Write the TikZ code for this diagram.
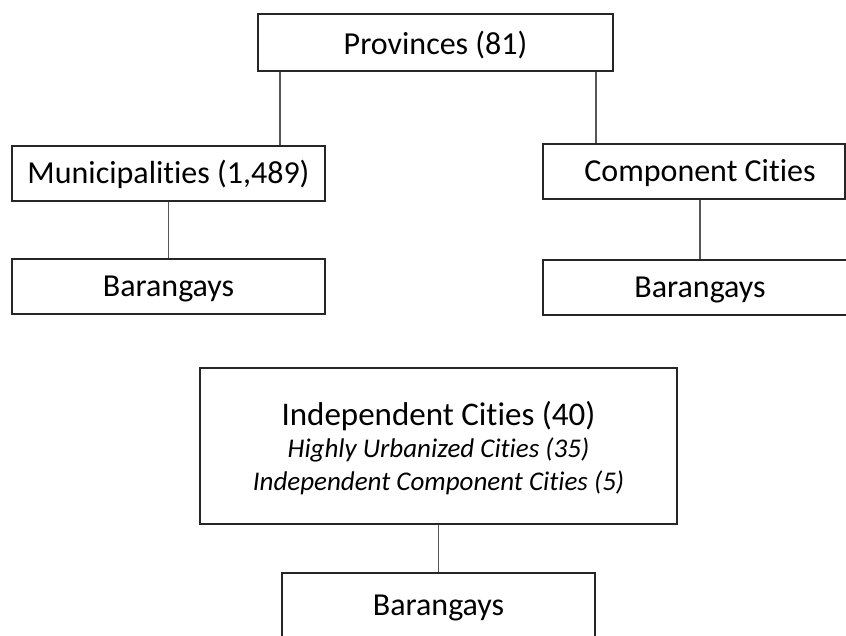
\documentclass[tikz,border=0pt]{standalone}
\usepackage{fontspec}
\setmainfont{Carlito}[Ligatures=NoCommon]
\definecolor{boxline}{HTML}{262626}
\definecolor{connline}{HTML}{555555}
\begin{document}
\begin{tikzpicture}[x=1pt,y=-1pt,
  orgbox/.style={draw=boxline, line width=1.8pt, rectangle, inner sep=0pt,
    font=\fontsize{32}{38}\selectfont, text height=20.6pt, text depth=0pt},
  plaintext/.style={inner sep=0pt, text height=21.2pt, text depth=0pt,
    font=\fontsize{33}{38}\selectfont},
  italtext/.style={inner sep=0pt, text height=17.4pt, text depth=0pt,
    font=\fontsize{27}{31}\selectfont\itshape},
  conn/.style={draw=connline, line width=1.1pt}]
\useasboundingbox (0,0) rectangle (846,635);
\clip (0,0) rectangle (846,635);
% boxes
\node[orgbox, minimum width=355pt, minimum height=57pt] (prov) at (435.5,42.5) {\raisebox{-2pt}{Provinces (81)}};
\node[orgbox, minimum width=313pt, minimum height=55pt] (mun) at (168.5,173.5) {Municipalities (1,489)};
\node[orgbox, minimum width=302pt, minimum height=55pt] (comp) at (694,171.5) {\hspace*{12pt}Component Cities};
\node[orgbox, minimum width=313pt, minimum height=55pt] (barl) at (168.5,286.5) {Barangays};
\node[orgbox, minimum width=314pt, minimum height=55pt] (barr) at (700,287.5) {Barangays};
\node[orgbox, minimum width=477pt, minimum height=156pt] (ind) at (438.5,446) {};
\node[plaintext] (indmain) at (438.5,414.4) {Independent Cities (40)};
\node[italtext] (indhuc) at (438.5,448.3) {Highly Urbanized Cities (35)};
\node[italtext] (indicc) at (438.5,481.3) {Independent Component Cities (5)};
\node[orgbox, minimum width=313pt, minimum height=64pt] (barb) at (438.5,605) {Barangays};
% connectors
\coordinate (cl) at (280,0);
\coordinate (cr) at (596,0);
\coordinate (cc) at (700,0);
\draw[conn] (cl |- prov.south) -- (cl |- mun.north);
\draw[conn] (cr |- prov.south) -- (cr |- comp.north);
\draw[conn] (mun.south) -- (barl.north);
\draw[conn] (cc |- comp.south) -- (cc |- barr.north);
\draw[conn] (ind.south) -- (barb.north);
\end{tikzpicture}
\end{document}
